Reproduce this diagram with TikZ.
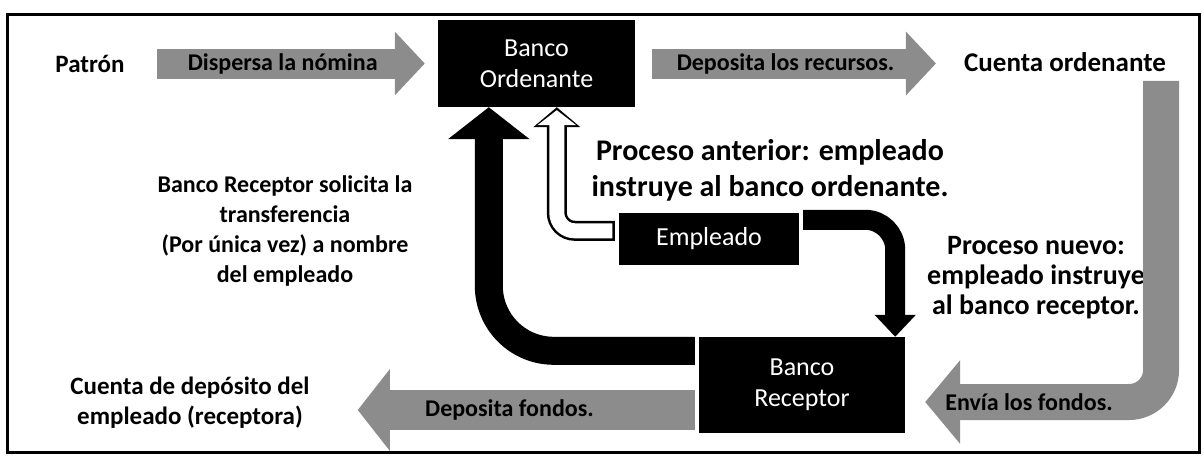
\documentclass[tikz,border=0pt]{standalone}
\usepackage{fontspec}
\setmainfont{Carlito}
\usetikzlibrary{arrows.meta,calc}
\begin{document}
\begin{tikzpicture}[x=1pt,y=-1pt,
  bankbox/.style={fill=black,text=white,inner sep=0pt,align=center,font=\fontsize{26}{31}\selectfont},
  lbl/.style={inner sep=0pt,align=center,text=black},
  grayarr/.style={draw=black!45},
  arrtxt/.style={font=\bfseries\fontsize{24}{28}\selectfont,text=black,inner sep=0pt},
  blkarr/.style={draw=black},
  hollowarr/.style={draw=white}
]
\useasboundingbox (0,0) rectangle (1204,463);
\draw[line width=3pt] (7,14) rectangle (1199,452);

% boxes
\node[bankbox,minimum width=197pt,minimum height=87pt] (ord) at (536.5,63.5) {Banco\\Ordenante};
\node[bankbox,minimum width=180pt,minimum height=52pt] (emp) at (709,239) {Empleado};
\node[bankbox,minimum width=206pt,minimum height=96pt] (rec) at (802,385) {Banco\\Receptor};

% labels
\node[lbl,font=\bfseries\fontsize{25}{30}\selectfont] (pat) at (90,64) {Patrón};
\node[lbl,font=\bfseries\fontsize{27}{32}\selectfont] (cta) at (1065,62) {Cuenta ordenante};
\node[lbl,font=\bfseries\fontsize{30}{36}\selectfont] (pant) at (770,170) {Proceso anterior: empleado\\instruye al banco ordenante.};
\node[lbl,font=\bfseries\fontsize{24}{30}\selectfont] (brs) at (285,231) {Banco Receptor solicita la\\transferencia\\(Por única vez) a nombre\\del empleado};
\node[lbl,font=\bfseries\fontsize{28}{30}\selectfont] (pnue) at (1036,278) {Proceso nuevo:\\empleado instruye\\al banco receptor.};
\node[lbl,font=\bfseries\fontsize{25}{30}\selectfont] (cdep) at (190,403) {Cuenta de depósito del\\empleado (receptora)};

% grey flow arrows
\draw[grayarr,line width=30pt,-{Triangle[width=62pt,length=30pt]}]
  ($(pat.east |- ord.west)+(32,0)$) -- ($(ord.west)+(-13,0)$)
  node[arrtxt,pos=.47] {Dispersa la nómina};
\draw[grayarr,line width=30pt,-{Triangle[width=62pt,length=30pt]}]
  ($(ord.east)+(17,0)$) -- ($(cta.west |- ord.east)+(-28,0)$)
  node[arrtxt,pos=.47] {Deposita los recursos.};
\draw[grayarr,line width=36pt,rounded corners=32pt,-{Triangle[width=82pt,length=35pt]}]
  ($(cta.south east)+(-5,9)$) |- ($(rec.east)+(20,17)$)
  node[arrtxt,pos=.78] {Envía los fondos.};
\draw[grayarr,line width=40pt,-{Triangle[width=80pt,length=32pt]}]
  ($(rec.west)+(-4,25)$) -- ($(cdep.east |- rec.west)+(48,25)$)
  node[arrtxt,pos=.55] {Deposita fondos.};

% black arrows
\draw[blkarr,line width=28pt,rounded corners=65pt,-{Triangle[width=80pt,length=32pt]}]
  ($(rec.north west)+(-4,14)$) -| ($(ord.south west)+(51,0)$);
\draw[blkarr,line width=20pt,rounded corners=30pt,-{Triangle[width=40pt,length=22pt]}]
  ($(emp.north east)+(4,7)$) -| ($(rec.north east)+(-10,0)$);

% hollow arrow (old process)
\draw[blkarr,line width=20pt,rounded corners=18pt,-{Triangle[width=46pt,length=20pt]}]
  ($(emp.north west)+(-4,18)$) -| ($(ord.south west)+(119,0)$);
\draw[hollowarr,line width=15pt,rounded corners=18pt,shorten <=2.5pt,shorten >=3pt,-{Triangle[width=38pt,length=15pt]}]
  ($(emp.north west)+(-4,18)$) -| ($(ord.south west)+(119,0)$);
\end{tikzpicture}
\end{document}
